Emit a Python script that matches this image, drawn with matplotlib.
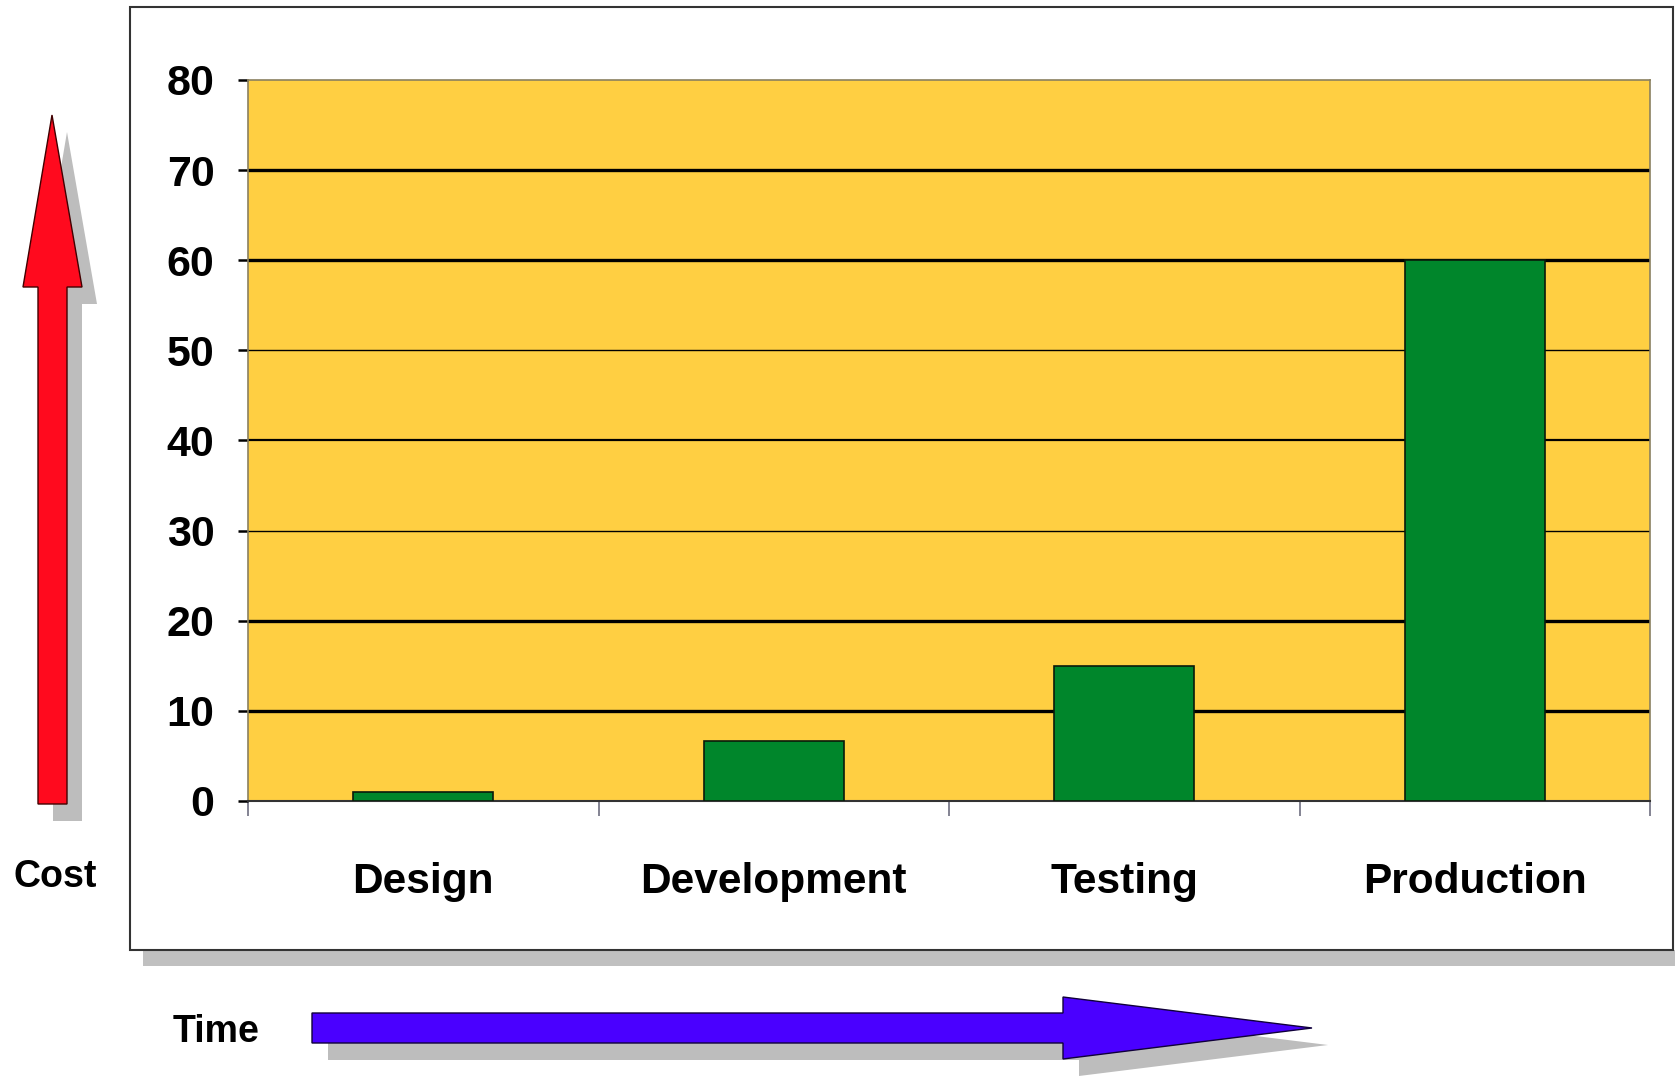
import matplotlib
matplotlib.use('Agg')
import matplotlib.pyplot as plt
from matplotlib.patches import Polygon, Rectangle
import numpy as np

# data
phases = ['Design', 'Development', 'Testing', 'Production']
cost = [1, 6.7, 15, 60]
y_ticks = [0, 10, 20, 30, 40, 50, 60, 70, 80]

W, H = 1675, 1077
FONT = ['Liberation Sans', 'DejaVu Sans']

fig = plt.figure(figsize=(W / 100, H / 100), dpi=100)
fig.patch.set_facecolor('white')


def px(pts, dx=0, dy=0):
    # pixel coords (top-left origin) -> figure fraction
    return [((x + dx) / W, 1 - (y + dy) / H) for x, y in pts]


# outer frame + shadow
fig.patches.append(Rectangle((143 / W, 1 - 966 / H), (W - 143) / W, 16 / H,
                             transform=fig.transFigure, facecolor='#c0c0c0',
                             edgecolor='none', zorder=0))
fig.patches.append(Rectangle((130 / W, 1 - 950 / H), (1673 - 130) / W, (950 - 7) / H,
                             transform=fig.transFigure, facecolor='white',
                             edgecolor='#333333', lw=1.5, zorder=1))

# chart area
ax = fig.add_axes([248 / W, 1 - 801 / H, 1402 / W, 721 / H], zorder=2)
ax.set_facecolor('#ffcf42')
x = np.arange(len(phases))
ax.bar(x, cost, width=0.4, color='#00862b', edgecolor='#0a1a0a', lw=1.2, zorder=3)

ax.set_xlim(-0.5, len(phases) - 0.5)
ax.set_ylim(0, 80)

grid_lw = [2.4, 2.4, 1.0, 1.6, 1.0, 2.4, 2.4]
for v, lw in zip(y_ticks[1:-1], grid_lw):
    ax.axhline(v, color='black', lw=lw, zorder=2)

for side in ['top', 'right', 'left']:
    ax.spines[side].set_color('#8a8060')
    ax.spines[side].set_linewidth(1.2)
ax.spines['bottom'].set_color('#333333')
ax.spines['bottom'].set_linewidth(1.5)

ax.set_yticks(y_ticks)
ax.set_yticklabels([str(v) for v in y_ticks], fontfamily=FONT, fontweight='bold')
ax.tick_params(axis='y', length=7.2, width=1.8, pad=17, labelsize=31, color='black')

ax.set_xticks(np.arange(-0.5, len(phases), 1))
ax.set_xticklabels([])
ax.tick_params(axis='x', length=11, width=1.3, color='#7a7a8a')

for i, name in enumerate(phases):
    ax.text(i, -0.1276, name, transform=ax.get_xaxis_transform(), ha='center',
            va='baseline', fontsize=30.5, fontweight='bold', family=FONT)

# red "cost" arrow
red = [(52, 115), (82, 287), (67, 287), (67, 804), (38, 804), (38, 287), (23, 287)]
fig.patches.append(Polygon(px(red, 15, 17), closed=True, transform=fig.transFigure,
                           facecolor='#bdbdbd', edgecolor='none', zorder=3))
fig.patches.append(Polygon(px(red), closed=True, transform=fig.transFigure,
                           facecolor='#ff0a1e', edgecolor='#400000', lw=1.0, zorder=4))

# blue "time" arrow
blue = [(312, 1013), (1063, 1013), (1063, 997), (1312, 1028), (1063, 1059),
        (1063, 1043), (312, 1043)]
fig.patches.append(Polygon(px(blue, 16, 17), closed=True, transform=fig.transFigure,
                           facecolor='#bdbdbd', edgecolor='none', zorder=3))
fig.patches.append(Polygon(px(blue), closed=True, transform=fig.transFigure,
                           facecolor='#4a00ff', edgecolor='#10003a', lw=1.0, zorder=4))

fig.text(55 / W, 1 - 877 / H, 'Cost', ha='center', va='center', fontsize=27,
         fontweight='bold', family=FONT)
fig.text(216 / W, 1 - 1032 / H, 'Time', ha='center', va='center', fontsize=27,
         fontweight='bold', family=FONT)

plt.savefig('out.png', dpi=100)
